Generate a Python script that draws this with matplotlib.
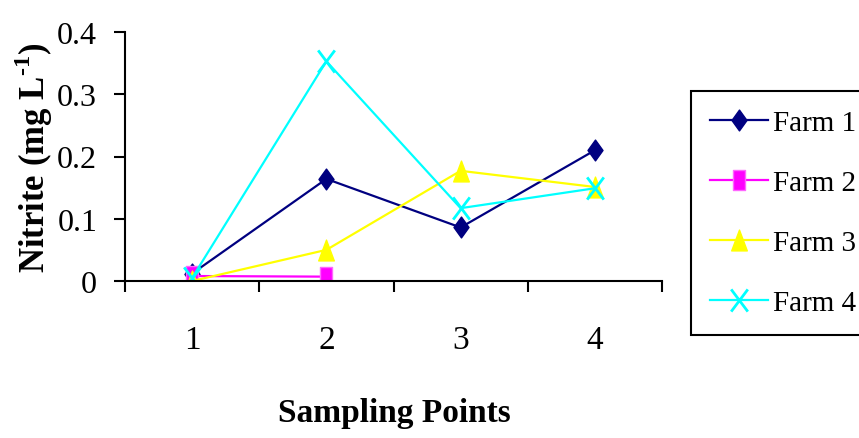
import matplotlib
matplotlib.use("Agg")
import matplotlib.pyplot as plt
from matplotlib.path import Path

plt.rcParams['font.family'] = ['Liberation Serif', 'DejaVu Serif']
plt.rcParams['mathtext.fontset'] = 'custom'
plt.rcParams['mathtext.rm'] = 'Liberation Serif:bold'
plt.rcParams['mathtext.bf'] = 'Liberation Serif:bold'

sampling_points = [1, 2, 3, 4]
tick_labels = ["1", "2", "3", "4"]
farm1 = [0.012, 0.164, 0.086, 0.210]
farm2 = [0.008, 0.007]
farm3 = [0.0, 0.050, 0.177, 0.151]
farm4 = [0.005, 0.353, 0.117, 0.149]
series_names = ["Farm 1", "Farm 2", "Farm 3", "Farm 4"]
y_ticks = [0, 0.1, 0.2, 0.3, 0.4]
y_tick_labels = ["0", "0.1", "0.2", "0.3", "0.4"]

W, H = 859, 439
fig = plt.figure(figsize=(W / 100, H / 100), dpi=100)
ax = fig.add_axes([125 / W, 1 - 282 / H, 537 / W, 249 / H])

diamond = Path([(0, 1), (0.72, 0), (0, -1), (-0.72, 0), (0, 1)],
               [Path.MOVETO, Path.LINETO, Path.LINETO, Path.LINETO, Path.CLOSEPOLY])
rect = Path([(-0.65, -1), (0.65, -1), (0.65, 1), (-0.65, 1), (-0.65, -1)],
            [Path.MOVETO, Path.LINETO, Path.LINETO, Path.LINETO, Path.CLOSEPOLY])
tri = Path([(0, 1), (0.75, -1), (-0.75, -1), (0, 1)],
           [Path.MOVETO, Path.LINETO, Path.LINETO, Path.CLOSEPOLY])
cross = Path([(-0.75, -1), (0.75, 1), (-0.75, 1), (0.75, -1)],
             [Path.MOVETO, Path.LINETO, Path.MOVETO, Path.LINETO])

lw = 1.6
ax.plot(sampling_points, farm1, color='#000080', lw=lw, marker=diamond, ms=15,
        mfc='#000080', mec='#000080', label=series_names[0])
ax.plot(sampling_points[:len(farm2)], farm2, color='#FF00FF', lw=lw, marker=rect, ms=14,
        mfc='#FF00FF', mec='#FF66FF', mew=1, label=series_names[1])
ax.plot(sampling_points, farm3, color='#FFFF00', lw=lw, marker=tri, ms=15,
        mfc='#FFFF00', mec='#FFFF00', label=series_names[2])
ax.plot(sampling_points, farm4, color='#00FFFF', lw=lw, marker=cross, ms=16,
        mfc='none', mec='#00FFFF', mew=2, label=series_names[3])

ax.set_xlim(0.5, 4.5)
ax.set_ylim(0, 0.4)
for s in ['top', 'right']:
    ax.spines[s].set_visible(False)
for s in ['left', 'bottom']:
    ax.spines[s].set_linewidth(1.5)
    ax.spines[s].set_color('black')

ax.set_xticks(sampling_points)
ax.set_xticklabels(tick_labels, fontsize=24)
ax.set_xticks([0.5, 1.5, 2.5, 3.5, 4.5], minor=True)
ax.tick_params(axis='x', which='major', length=0, pad=31)
ax.tick_params(axis='x', which='minor', length=8, width=1.5, direction='out')
ax.set_yticks(y_ticks)
ax.set_yticklabels(y_tick_labels, fontsize=23)
ax.tick_params(axis='y', length=8, width=1.5, direction='out', pad=12)

fig.text(34 / W, 1 - 158 / H, r'Nitrite (mg L$^{\text{-1}}$)', rotation=90,
         ha='center', va='center', fontsize=25, fontweight='bold')
fig.text(394 / W, 1 - 414 / H, 'Sampling Points', ha='center', va='center',
         fontsize=24, fontweight='bold')

leg = fig.legend(loc='upper left', bbox_to_anchor=(691 / W, 1 - 92 / H),
                 bbox_transform=fig.transFigure, borderaxespad=0, fontsize=21,
                 handlelength=2.0, handletextpad=0.15, labelspacing=1.15,
                 borderpad=0.65, fancybox=False, framealpha=1)
leg.get_frame().set_edgecolor('black')
leg.get_frame().set_linewidth(1.5)

fig.savefig('out.png', dpi=100)
